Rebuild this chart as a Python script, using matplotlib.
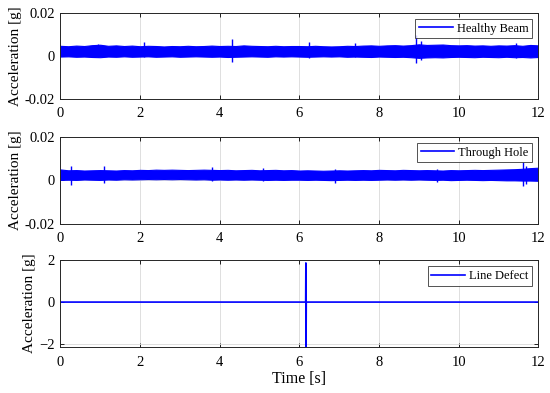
import numpy as np
import matplotlib
matplotlib.use("Agg")
import matplotlib.pyplot as plt
from matplotlib.lines import Line2D

plt.rcParams['font.family'] = ['Liberation Serif', 'DejaVu Serif']

# ---------------- data ----------------
env_t = np.linspace(0, 12, 61)  # envelope sample times [s], 0.2 s step

# Healthy beam envelope, in mg
healthy_hi_mg = [4.6, 4.4, 4.7, 4.5, 4.9, 5.1, 4.6, 4.8, 4.5, 4.7,
                 4.4, 4.6, 4.5, 4.3, 4.5, 4.4, 4.6, 4.4, 4.5, 4.7,
                 4.5, 4.6, 4.5, 4.8, 4.6, 4.5, 4.4, 4.6, 4.4, 4.5,
                 4.5, 4.4, 4.6, 4.4, 4.3, 4.4, 4.6, 4.5, 4.7, 4.8,
                 4.6, 4.8, 4.9, 4.7, 4.9, 5.3, 5.0, 5.1, 5.2, 4.9,
                 4.8, 4.9, 4.7, 4.8, 4.6, 4.8, 4.7, 4.9, 4.6, 5.0, 4.8]
healthy_lo_mg = [-0.4, -0.3, -0.5, -0.4, -0.6, -0.7, -0.4, -0.5, -0.3, -0.5,
                 -0.4, -0.3, -0.5, -0.4, -0.3, -0.5, -0.4, -0.3, -0.4, -0.5,
                 -0.4, -0.6, -0.5, -0.4, -0.3, -0.4, -0.5, -0.3, -0.4, -0.3,
                 -0.4, -0.5, -0.4, -0.3, -0.4, -0.3, -0.5, -0.4, -0.5, -0.6,
                 -0.4, -0.5, -0.6, -0.5, -0.7, -1.0, -0.8, -0.7, -0.8, -0.6,
                 -0.5, -0.6, -0.7, -0.5, -0.6, -0.7, -0.5, -0.7, -0.6, -0.8, -0.6]
healthy_spike_t = [0.95, 2.1, 4.3, 6.25, 7.4, 8.93, 9.05, 11.45]
healthy_spike_hi_mg = [5.6, 6.2, 7.8, 6.2, 6.0, 9.6, 7.0, 5.8]
healthy_spike_lo_mg = [-0.8, -0.6, -2.8, -1.2, -0.8, -3.3, -2.0, -1.2]

# Through hole envelope, in mg
hole_hi_mg = [5.0, 4.6, 4.7, 4.5, 4.6, 4.7, 4.6, 4.5, 4.7, 4.6,
              4.8, 4.7, 4.9, 4.8, 4.9, 4.8, 4.7, 4.8, 4.9, 4.8,
              4.7, 4.8, 4.6, 4.7, 4.8, 4.6, 4.7, 4.8, 4.6, 4.7,
              4.5, 4.6, 4.5, 4.4, 4.5, 4.6, 4.5, 4.6, 4.7, 4.6,
              4.8, 4.7, 4.6, 4.8, 4.7, 4.6, 4.7, 4.6, 4.5, 4.7,
              4.6, 4.7, 4.8, 4.7, 4.8, 4.9, 5.0, 5.1, 5.3, 5.6, 5.8]
hole_lo_mg = [0.2, 0.3, 0.2, 0.4, 0.3, 0.2, 0.4, 0.3, 0.5, 0.4,
              0.5, 0.6, 0.5, 0.6, 0.5, 0.6, 0.5, 0.4, 0.5, 0.3,
              0.4, 0.3, 0.4, 0.3, 0.4, 0.3, 0.2, 0.3, 0.2, 0.3,
              0.3, 0.2, 0.3, 0.2, 0.1, 0.2, 0.3, 0.2, 0.3, 0.2,
              0.3, 0.4, 0.3, 0.4, 0.3, 0.4, 0.3, 0.2, 0.3, 0.1,
              0.2, 0.3, 0.2, 0.1, 0.2, 0.1, 0.0, 0.0, -0.1, -0.1, -0.2]
hole_spike_t = [0.28, 1.1, 3.8, 5.1, 6.9, 9.45, 11.62, 11.7]
hole_spike_hi_mg = [6.8, 6.5, 6.0, 5.5, 5.4, 5.3, 8.5, 6.5]
hole_spike_lo_mg = [-2.2, -1.0, -0.2, -0.4, -1.0, -0.6, -2.8, -1.5]

# Line defect signal (g)
defect_t = [0.0, 6.16, 6.165, 6.17, 6.175, 12.0]
defect_a = [0.0, 0.0, 1.86, -2.2, 0.0, 0.0]

labels = ["Healthy Beam", "Through Hole", "Line Defect"]
x_ticks = [0, 2, 4, 6, 8, 10, 12]
color = (0.0, 0.0, 1.0)

# ---------------- figure ----------------
fig = plt.figure(figsize=(5.5, 3.93), dpi=100)
W, H = 550, 393
boxes = [(60.3, 12.7, 538.3, 98.7), (60.3, 136.7, 538.3, 224.0), (60.3, 260.0, 538.3, 347.3)]
axes = [fig.add_axes([l / W, 1 - b / H, (r - l) / W, (b - t) / H]) for (l, t, r, b) in boxes]


def style(ax):
    ax.set_xlim(0, 12)
    ax.set_xticks(x_ticks)
    ax.tick_params(direction='in', length=3, width=0.6, labelsize=10.5, colors='black',
                   top=True, right=True)
    ax.tick_params(axis='x', pad=6)
    ax.tick_params(axis='y', pad=4)
    ax.grid(True, color='#d9d9d9', linewidth=0.6)
    ax.set_axisbelow(True)
    for s in ax.spines.values():
        s.set_linewidth(0.7)
        s.set_color('#262626')
    ax.set_ylabel("Acceleration [g]", fontsize=11, labelpad=2)


def legend(ax, text):
    h = Line2D([], [], color=color, linewidth=1.2)
    lg = ax.legend([h], [text], loc='upper right', fontsize=9, frameon=True,
                   fancybox=False, handlelength=2.7, borderpad=0.3,
                   handletextpad=0.3, borderaxespad=0.5)
    lg.get_frame().set_edgecolor('#262626')
    lg.get_frame().set_linewidth(0.7)


sets = [
    (healthy_hi_mg, healthy_lo_mg, healthy_spike_t, healthy_spike_hi_mg, healthy_spike_lo_mg),
    (hole_hi_mg, hole_lo_mg, hole_spike_t, hole_spike_hi_mg, hole_spike_lo_mg),
]
for ax, (hi, lo, st, shi, slo), lab in zip(axes[:2], sets, labels[:2]):
    hi_g = np.array(hi) * 1e-3
    lo_g = np.array(lo) * 1e-3
    ax.fill_between(env_t, lo_g, hi_g, color=color, linewidth=0.8, edgecolor=color)
    ax.vlines(st, np.array(slo) * 1e-3, np.array(shi) * 1e-3, color=color, linewidth=1.0)
    ax.set_ylim(-0.02, 0.02)
    ax.set_yticks([-0.02, 0, 0.02])
    ax.set_yticklabels(["-0.02", "0", "0.02"])
    style(ax)
    legend(ax, lab)

ax3 = axes[2]
ax3.plot(defect_t, defect_a, color=color, linewidth=1.2)
ax3.set_ylim(-2.15, 2.0)
ax3.set_yticks([-2, 0, 2])
style(ax3)
legend(ax3, labels[2])
ax3.set_xlabel("Time [s]", fontsize=11.5, labelpad=2)

fig.savefig("out.png", dpi=100)
